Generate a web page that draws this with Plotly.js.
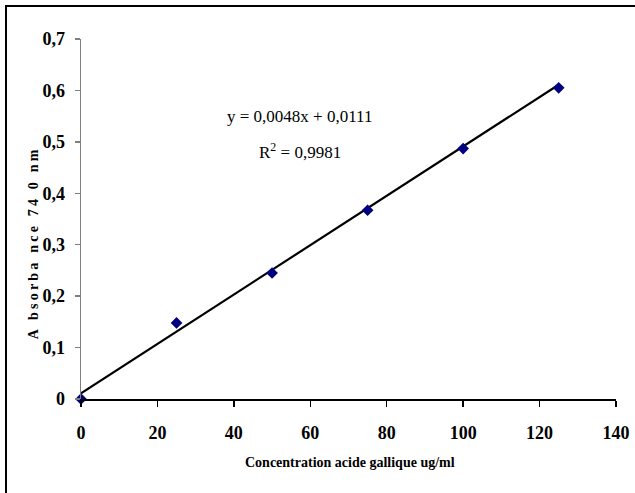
<!DOCTYPE html>
<html>
<head>
<meta charset="utf-8">
<script src="https://cdn.plot.ly/plotly-3.0.1.min.js"></script>
<style>
  body { margin: 0; padding: 0; background: #fff; }
  #wrap { position: relative; width: 635px; height: 493px; }
  #chart { position: absolute; left: 0; top: 0; width: 635px; height: 493px; }
  #frame { position: absolute; left: 5px; top: 5px; width: 640px; height: 500px;
           border-left: 2px solid #000; border-top: 2px solid #000; pointer-events: none; }
  g.annotation[data-index="2"] text { letter-spacing: 3.2px; }
</style>
</head>
<body>
<div id="wrap">
  <div id="chart"></div>
  <div id="frame"></div>
</div>
<script>
// Data
const concentration = [0, 25, 50, 75, 100, 125];
const absorbance = [0, 0.148, 0.245, 0.367, 0.487, 0.605];
// Trend line endpoints (y = 0,0048x + 0,0111)
const trendX = [0, 125];
const trendY = [0.0111, 0.6111];
const yTickVals = [0, 0.1, 0.2, 0.3, 0.4, 0.5, 0.6, 0.7];
const yTickText = ['0', '0,1', '0,2', '0,3', '0,4', '0,5', '0,6', '0,7'];
const xTickVals = [0, 20, 40, 60, 80, 100, 120, 140];
const xTickText = ['0', '20', '40', '60', '80', '100', '120', '140'];
const equationText = 'y = 0,0048x + 0,0111';
const r2Text = 'R<sup>2</sup> = 0,9981';
const xTitle = 'Concentration acide gallique ug/ml';
const yTitle = 'A bsorba nce 74 0 nm';

const serif = 'Liberation Serif, Times New Roman, serif';

const traces = [
  {
    x: trendX, y: trendY, type: 'scatter', mode: 'lines',
    line: { color: '#000000', width: 2.2 },
    hoverinfo: 'skip', showlegend: false, cliponaxis: false
  },
  {
    x: concentration, y: absorbance, type: 'scatter', mode: 'markers',
    marker: { symbol: 'diamond', size: 9, color: '#000080' },
    showlegend: false, cliponaxis: false
  }
];

const layout = {
  width: 635, height: 493,
  margin: { l: 81, r: 18.5, t: 39, b: 94 },
  paper_bgcolor: '#ffffff', plot_bgcolor: '#ffffff',
  showlegend: false,
  xaxis: {
    range: [0, 140], tickvals: xTickVals, ticktext: xTickText,
    showgrid: false, zeroline: false,
    showline: true, linecolor: '#000000', linewidth: 1.5,
    ticks: 'outside', ticklen: 6, tickwidth: 1.5, tickcolor: '#000000',
    ticklabelstandoff: 11,
    tickfont: { family: serif, size: 18, color: '#000000', weight: 'bold' }
  },
  yaxis: {
    range: [0, 0.7], tickvals: yTickVals, ticktext: yTickText,
    showgrid: false, zeroline: false,
    showline: true, linecolor: '#7f7f7f', linewidth: 1.5,
    ticks: 'outside', ticklen: 5, tickwidth: 1.5, tickcolor: '#7f7f7f',
    ticklabelstandoff: 6,
    tickfont: { family: serif, size: 18, color: '#000000', weight: 'bold' }
  },
  annotations: [
    { text: equationText, xref: 'paper', yref: 'paper', x: 0.409, y: 0.786,
      xanchor: 'center', yanchor: 'middle', showarrow: false,
      font: { family: serif, size: 17, color: '#000000' } },
    { text: r2Text, xref: 'paper', yref: 'paper', x: 0.409, y: 0.69,
      xanchor: 'center', yanchor: 'middle', showarrow: false,
      font: { family: serif, size: 17, color: '#000000' } },
    { text: yTitle, xref: 'paper', yref: 'paper', x: -0.0897, y: 0.433,
      xanchor: 'center', yanchor: 'middle', showarrow: false, textangle: -90,
      font: { family: serif, size: 14, color: '#000000', weight: 'bold' } },
    { text: xTitle, xref: 'paper', yref: 'paper', x: 0.502, y: -0.175,
      xanchor: 'center', yanchor: 'middle', showarrow: false,
      font: { family: serif, size: 14, color: '#000000', weight: 'bold' } }
  ]
};

Plotly.newPlot('chart', traces, layout, { staticPlot: true, displayModeBar: false });
</script>
</body>
</html>
